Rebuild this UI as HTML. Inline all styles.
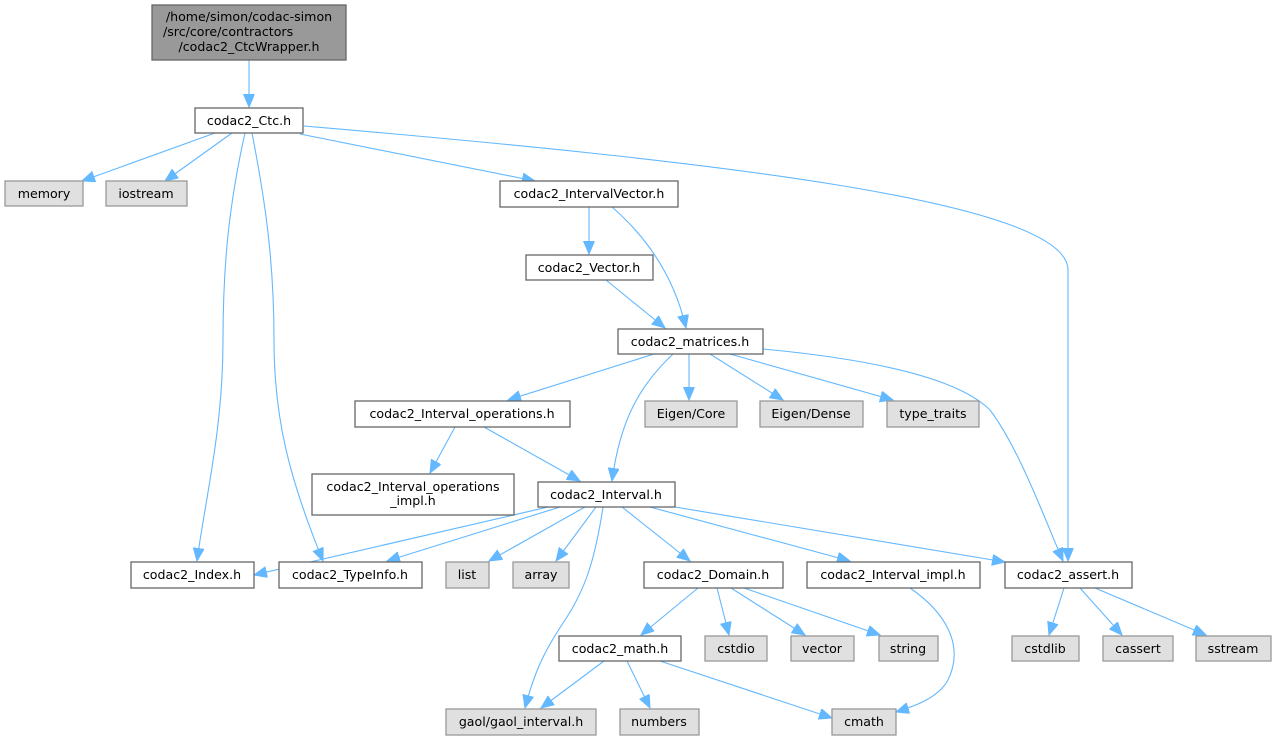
<!DOCTYPE html>
<html><head><meta charset="utf-8"><style>
html,body{margin:0;padding:0;background:#fff;}
svg{display:block;}
text{font-family:"DejaVu Sans","Liberation Sans",sans-serif;font-size:12.6px;fill:#000;}
.n{fill:#fff;stroke:#666;stroke-width:1.3;}
.g{fill:#e0e0e0;stroke:#999;stroke-width:1.3;}
.e{fill:none;stroke:#63b8ff;stroke-width:1.1;}
</style></head><body>
<svg width="1276" height="740" viewBox="0 0 1276 740">
<defs><marker id="a" markerWidth="14" markerHeight="12" refX="13" refY="5.5" orient="auto" markerUnits="userSpaceOnUse"><path d="M0,0 L13,5.5 L0,11 z" fill="#63b8ff" stroke="#63b8ff"/></marker></defs>
<g marker-end="url(#a)">
<path class="e" d="M249,60 L249,107"/>
<path class="e" d="M215,133 L82,181"/>
<path class="e" d="M232,133 L165,181"/>
<path class="e" d="M245,133 C230,200 223,260 223,340 C223,430 205,500 197,561"/>
<path class="e" d="M252,133 C265,200 274,260 274,340 C274,420 290,480 323,561"/>
<path class="e" d="M300,134 L535,181"/>
<path class="e" d="M304,126 C700,160 1068,200 1068,270 L1068,561"/>
<path class="e" d="M589,207 L589,254"/>
<path class="e" d="M612,207 C650,240 675,280 686,328"/>
<path class="e" d="M606,280 L665,328"/>
<path class="e" d="M654,354 L508,400"/>
<path class="e" d="M673,354 C640,385 620,420 612,481"/>
<path class="e" d="M689,354 L689,400"/>
<path class="e" d="M710,354 L783,400"/>
<path class="e" d="M730,354 L893,400"/>
<path class="e" d="M763,349 C880,360 960,380 990,410 C1020,450 1045,520 1063,561"/>
<path class="e" d="M455,427 L430,473"/>
<path class="e" d="M484,427 L580,481"/>
<path class="e" d="M548,507 L254,575"/>
<path class="e" d="M560,507 L387,561"/>
<path class="e" d="M585,507 L489,561"/>
<path class="e" d="M596,507 L556,561"/>
<path class="e" d="M603,507 C595,560 585,590 565,620 C545,650 535,670 525,708"/>
<path class="e" d="M622,507 L690,561"/>
<path class="e" d="M650,507 L850,561"/>
<path class="e" d="M675,507 L1005,562"/>
<path class="e" d="M698,588 L641,635"/>
<path class="e" d="M717,588 L729,635"/>
<path class="e" d="M731,588 L805,635"/>
<path class="e" d="M744,588 L880,635"/>
<path class="e" d="M910,588 C945,612 965,645 948,680 C938,698 915,706 896,712"/>
<path class="e" d="M1064,588 L1049,635"/>
<path class="e" d="M1080,588 L1122,635"/>
<path class="e" d="M1095,588 L1206,635"/>
<path class="e" d="M604,661 L541,708"/>
<path class="e" d="M627,661 L650,708"/>
<path class="e" d="M660,661 L832,718"/>
</g>
<rect x="152" y="5" width="194" height="55" fill="#999" stroke="#666" stroke-width="1.3"/>
<text x="249" y="21" text-anchor="middle">/home/simon/codac-simon</text>
<text x="163" y="36">/src/core/contractors</text>
<text x="249" y="51" text-anchor="middle">/codac2_CtcWrapper.h</text>

<rect class="n" x="195" y="108" width="108" height="25"/><text x="249" y="125" text-anchor="middle">codac2_Ctc.h</text>
<rect class="g" x="5" y="181" width="78" height="25"/><text x="44" y="198" text-anchor="middle">memory</text>
<rect class="g" x="106" y="181" width="81" height="25"/><text x="146" y="198" text-anchor="middle">iostream</text>
<rect class="n" x="500" y="181" width="178" height="26"/><text x="589" y="198" text-anchor="middle">codac2_IntervalVector.h</text>
<rect class="n" x="526" y="255" width="127" height="25"/><text x="589" y="272" text-anchor="middle">codac2_Vector.h</text>
<rect class="n" x="618" y="329" width="145" height="25"/><text x="690" y="346" text-anchor="middle">codac2_matrices.h</text>
<rect class="n" x="355" y="401" width="215" height="26"/><text x="462" y="418" text-anchor="middle">codac2_Interval_operations.h</text>
<rect class="g" x="645" y="401" width="92" height="26"/><text x="691" y="418" text-anchor="middle">Eigen/Core</text>
<rect class="g" x="760" y="401" width="103" height="26"/><text x="811" y="418" text-anchor="middle">Eigen/Dense</text>
<rect class="g" x="887" y="401" width="92" height="26"/><text x="933" y="418" text-anchor="middle">type_traits</text>
<rect class="n" x="312" y="474" width="202" height="41"/><text x="413" y="491" text-anchor="middle">codac2_Interval_operations</text><text x="413" y="505" text-anchor="middle">_impl.h</text>
<rect class="n" x="538" y="482" width="137" height="25"/><text x="606" y="499" text-anchor="middle">codac2_Interval.h</text>
<rect class="n" x="131" y="562" width="123" height="26"/><text x="192" y="579" text-anchor="middle">codac2_Index.h</text>
<rect class="n" x="279" y="562" width="143" height="26"/><text x="350" y="579" text-anchor="middle">codac2_TypeInfo.h</text>
<rect class="g" x="446" y="562" width="43" height="26"/><text x="467" y="579" text-anchor="middle">list</text>
<rect class="g" x="513" y="562" width="56" height="26"/><text x="541" y="579" text-anchor="middle">array</text>
<rect class="n" x="644" y="562" width="139" height="26"/><text x="713" y="579" text-anchor="middle">codac2_Domain.h</text>
<rect class="n" x="807" y="562" width="173" height="26"/><text x="893" y="579" text-anchor="middle">codac2_Interval_impl.h</text>
<rect class="n" x="1005" y="562" width="127" height="26"/><text x="1068" y="579" text-anchor="middle">codac2_assert.h</text>
<rect class="n" x="559" y="636" width="122" height="25"/><text x="620" y="653" text-anchor="middle">codac2_math.h</text>
<rect class="g" x="705" y="636" width="62" height="25"/><text x="736" y="653" text-anchor="middle">cstdio</text>
<rect class="g" x="791" y="636" width="63" height="25"/><text x="822" y="653" text-anchor="middle">vector</text>
<rect class="g" x="879" y="636" width="59" height="25"/><text x="908" y="653" text-anchor="middle">string</text>
<rect class="g" x="1012" y="636" width="67" height="25"/><text x="1045" y="653" text-anchor="middle">cstdlib</text>
<rect class="g" x="1103" y="636" width="70" height="25"/><text x="1138" y="653" text-anchor="middle">cassert</text>
<rect class="g" x="1196" y="636" width="75" height="25"/><text x="1233" y="653" text-anchor="middle">sstream</text>
<rect class="g" x="446" y="709" width="150" height="26"/><text x="521" y="726" text-anchor="middle">gaol/gaol_interval.h</text>
<rect class="g" x="620" y="709" width="79" height="26"/><text x="659" y="726" text-anchor="middle">numbers</text>
<rect class="g" x="832" y="709" width="64" height="26"/><text x="864" y="726" text-anchor="middle">cmath</text>
</svg>
</body></html>
